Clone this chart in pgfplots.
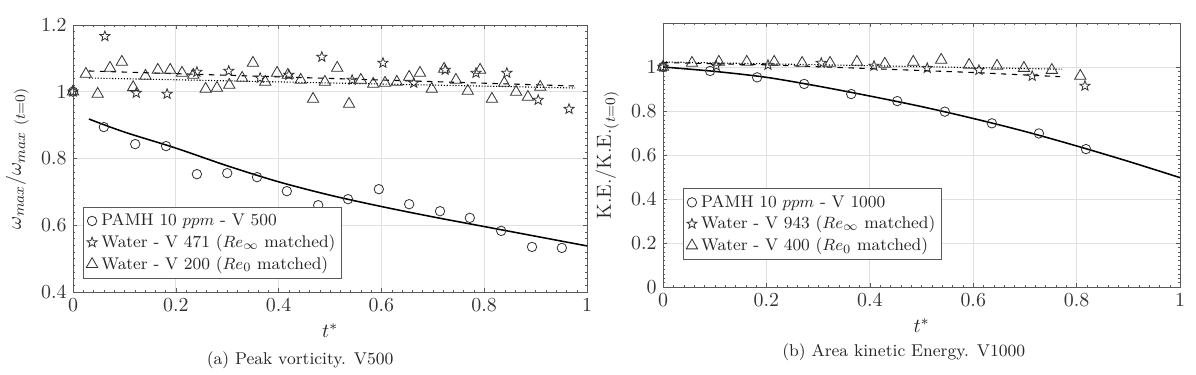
\documentclass[border=0pt]{standalone}
\usepackage{pgfplots}
\pgfplotsset{compat=1.18}

% outlined five-pointed star
\pgfdeclareplotmark{ostar}{%
  \pgfpathmoveto{\pgfpointpolar{90}{\pgfplotmarksize}}%
  \pgfpathlineto{\pgfpointpolar{126}{0.42\pgfplotmarksize}}%
  \pgfpathlineto{\pgfpointpolar{162}{\pgfplotmarksize}}%
  \pgfpathlineto{\pgfpointpolar{198}{0.42\pgfplotmarksize}}%
  \pgfpathlineto{\pgfpointpolar{234}{\pgfplotmarksize}}%
  \pgfpathlineto{\pgfpointpolar{270}{0.42\pgfplotmarksize}}%
  \pgfpathlineto{\pgfpointpolar{306}{\pgfplotmarksize}}%
  \pgfpathlineto{\pgfpointpolar{342}{0.42\pgfplotmarksize}}%
  \pgfpathlineto{\pgfpointpolar{18}{\pgfplotmarksize}}%
  \pgfpathlineto{\pgfpointpolar{54}{0.42\pgfplotmarksize}}%
  \pgfpathclose
  \pgfusepathqstroke
}

\pgfplotsset{
  panel/.style={
    scale only axis,
    xmin=0, xmax=1,
    xtick={0,0.2,...,1},
    minor tick num=9,
    grid=major,
    major grid style={black!12},
    axis line style={black!65},
    tick style={black!65},
    major tick length=2.2pt,
    minor tick length=1.3pt,
    tick label style={text=black!80, font=\fontsize{11.2}{13}\selectfont},
    label style={text=black!85, font=\fontsize{11.2}{13}\selectfont},
    xlabel={$t^*$},
    legend cell align=left,
    legend style={draw=black!65, inner sep=1.5pt, row sep=-0.5pt,
      text=black!85, cells={anchor=west},
      font=\fontsize{9.3}{11}\selectfont},
  },
  pts/.style={only marks, black!80, line width=0.45pt},
  circ/.style={pts, mark=o, mark size=2.6pt},
  str/.style={pts, mark=ostar, mark size=2.9pt},
  tri/.style={pts, mark=triangle, mark size=3.6pt},
}

\begin{document}
\begin{tikzpicture}
% ---------------- (a) peak vorticity
\begin{axis}[panel,
  at={(0pt,0pt)}, anchor=south west,
  width=282.7pt, height=146.9pt,
  ymin=0.4, ymax=1.2,
  ytick={0.4,0.6,...,1.2},
  ylabel={$\omega_{max}/\omega_{max\ (t=0)}$},
  legend style={at={(0.02,0.05)}, anchor=south west},
]
\addplot[circ] coordinates {
(0,1.000) (0.060,0.894) (0.121,0.843) (0.181,0.837) (0.241,0.753)
(0.300,0.756) (0.358,0.744) (0.416,0.702) (0.477,0.660) (0.535,0.678)
(0.595,0.708) (0.654,0.663) (0.714,0.642) (0.772,0.622) (0.833,0.583)
(0.893,0.535) (0.951,0.532)};
\addlegendentry{PAMH 10 $ppm$ - V 500}
\addplot[str] coordinates {
(0,1.000) (0.062,1.166) (0.123,0.996) (0.183,0.993) (0.241,1.059)
(0.303,1.062) (0.364,1.041) (0.420,1.050) (0.484,1.104) (0.543,1.035)
(0.603,1.086) (0.663,1.026) (0.724,1.065) (0.784,1.056) (0.844,1.056)
(0.905,0.975) (0.965,0.948)};
\addlegendentry{Water - V 471 ($Re_\infty$ matched)}
\addplot[tri] coordinates {
(0,1.000) (0.025,1.053) (0.048,0.993) (0.072,1.071) (0.095,1.089)
(0.117,1.013) (0.141,1.047) (0.165,1.065) (0.189,1.065) (0.212,1.056)
(0.234,1.050) (0.258,1.008) (0.280,1.011) (0.304,1.020) (0.329,1.041)
(0.350,1.086) (0.374,1.029) (0.397,1.056) (0.418,1.050) (0.443,1.035)
(0.467,0.978) (0.490,1.029) (0.514,1.071) (0.537,0.963) (0.560,1.035)
(0.584,1.023) (0.607,1.026) (0.630,1.029) (0.654,1.044) (0.675,1.056)
(0.698,1.008) (0.722,1.068) (0.745,1.035) (0.768,1.002) (0.792,1.065)
(0.815,0.978) (0.839,1.026) (0.862,0.999) (0.885,0.984) (0.909,1.014)};
\addlegendentry{Water - V 200 ($Re_0$ matched)}
% fits
\addplot[black, line width=0.85pt, smooth, forget plot] coordinates {
(0.031,0.918) (0.1,0.879) (0.2,0.831) (0.3,0.778) (0.4,0.730)
(0.5,0.690) (0.6,0.656) (0.7,0.625) (0.8,0.596) (0.9,0.567) (1.0,0.538)};
\addplot[black, line width=0.6pt, dashed, forget plot] coordinates {
(0.031,1.062) (0.977,1.017)};
\addplot[black, line width=0.6pt, densely dotted, forget plot] coordinates {
(0.031,1.041) (0.977,1.011)};
\end{axis}
\node[text=black!85, font=\fontsize{9.4}{11}\selectfont] at (124.9pt,-37.4pt) {(a) Peak vorticity. V500};

% ---------------- (b) area kinetic energy
\begin{axis}[panel,
  at={(324.5pt,2.75pt)}, anchor=south west,
  width=284.4pt, height=145.2pt,
  ymin=0, ymax=1.2,
  ytick={0,0.2,...,1},
  ylabel={K.E./K.E.$_{(t=0)}$},
  legend style={at={(0.039,0.102)}, anchor=south west},
]
\addplot[circ] coordinates {
(0,1.000) (0.091,0.982) (0.182,0.953) (0.273,0.923) (0.364,0.877)
(0.453,0.845) (0.545,0.797) (0.636,0.744) (0.727,0.698) (0.818,0.627)};
\addlegendentry{PAMH 10 $ppm$ - V 1000}
\addplot[str] coordinates {
(0,1.000) (0.103,1.005) (0.203,1.009) (0.306,1.018) (0.408,1.005)
(0.511,0.995) (0.611,0.986) (0.714,0.959) (0.816,0.914)};
\addlegendentry{Water - V 943 ($Re_\infty$ matched)}
\addplot[tri] coordinates {
(0,1.000) (0.056,1.018) (0.108,1.023) (0.162,1.023) (0.215,1.023)
(0.269,1.018) (0.323,1.018) (0.375,1.023) (0.429,1.014) (0.484,1.023)
(0.538,1.032) (0.592,1.009) (0.646,1.005) (0.698,0.995) (0.752,0.986)
(0.807,0.959)};
\addlegendentry{Water - V 400 ($Re_0$ matched)}
% fits
\addplot[black, line width=0.85pt, smooth, forget plot] coordinates {
(0,1.0) (0.1,0.980) (0.2,0.953) (0.3,0.913) (0.4,0.868) (0.5,0.820)
(0.6,0.766) (0.7,0.707) (0.8,0.641) (0.9,0.571) (1.0,0.497)};
\addplot[black, line width=0.6pt, dashed, forget plot] coordinates {
(0,1.020) (0.2,1.010) (0.42,0.991) (0.6,0.975) (0.768,0.956)};
\addplot[black, line width=0.6pt, densely dotted, forget plot] coordinates {
(0,1.023) (0.772,0.990)};
\end{axis}
\node[text=black!85, font=\fontsize{9.4}{11}\selectfont] at (456.9pt,-33pt) {(b) Area kinetic Energy. V1000};
% page size as in the reference
\useasboundingbox (-40.15pt,-45.65pt) rectangle (617.65pt,160.6pt);
\end{tikzpicture}
\end{document}
